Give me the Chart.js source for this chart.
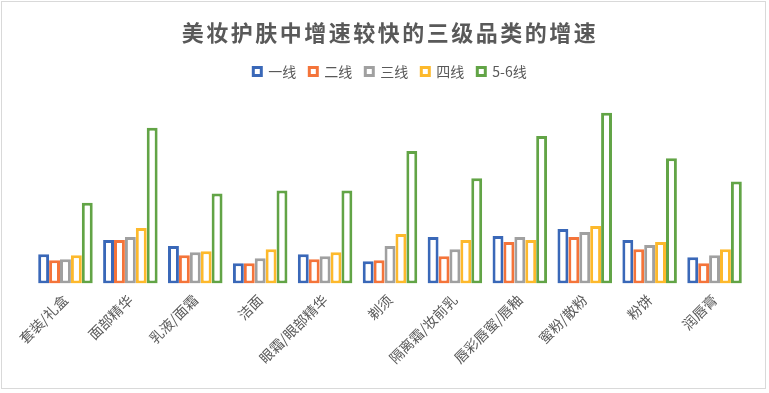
<!DOCTYPE html>
<html>
<head>
<meta charset="utf-8">
<script src="https://cdn.jsdelivr.net/npm/chart.js@4/dist/chart.umd.min.js"></script>
<style>
  html, body { margin: 0; padding: 0; background: #fff; }
  #wrap { position: relative; width: 769px; height: 393px; }
</style>
</head>
<body>
<div id="wrap"><canvas id="chart"></canvas></div>
<script>
const TITLE = '美妆护肤中增速较快的三级品类的增速';
const CATEGORIES = ['套装/礼盒', '面部精华', '乳液/面霜', '洁面', '眼霜/眼部精华', '剃须',
  '隔离霜/妆前乳', '唇彩唇蜜/唇釉', '蜜粉/散粉', '粉饼', '润唇膏'];
const SERIES_NAMES = ['一线', '二线', '三线', '四线', '5-6线'];

// values (no axis shown, arbitrary units)
const TIER1 = [29, 43, 37, 20, 29, 22, 46, 47, 54, 43, 26];
const TIER2 = [23, 43, 28, 20, 24, 23, 27, 41, 46, 34, 20];
const TIER3 = [24, 46, 31, 25, 27, 37, 34, 46, 51, 38, 28];
const TIER4 = [28, 55, 32, 34, 31, 49, 43, 43, 57, 41, 34];
const TIER56 = [80, 154, 89, 92, 92, 131, 104, 146, 169, 124, 101];

const SERIES_COLORS = ['#3a68b8', '#f4743a', '#a0a0a0', '#fdb92c', '#62a446'];
const TEXT_COLOR = '#595959';
const Y_MAX = 193;

const FONT = '"Microsoft YaHei", "Noto Sans CJK SC", sans-serif';

const chartBorder = {
  id: 'chartBorder',
  beforeDraw(chart) {
    const ctx = chart.ctx;
    ctx.save();
    ctx.fillStyle = '#fff';
    ctx.fillRect(0, 0, chart.width, chart.height);
    ctx.strokeStyle = '#d9d9d9';
    ctx.lineWidth = 1;
    ctx.strokeRect(1.5, 1.5, 764, 387);
    ctx.restore();
  },
};

const chart = new Chart(document.getElementById('chart'), {
  type: 'bar',
  data: {
    labels: CATEGORIES,
    datasets: [TIER1, TIER2, TIER3, TIER4, TIER56].map((values, i) => ({
      label: SERIES_NAMES[i],
      data: values,
      backgroundColor: '#ffffff',
      borderColor: SERIES_COLORS[i],
      borderWidth: 3,
      borderSkipped: false,
      categoryPercentage: 0.84,
      barPercentage: 1.0,
    })),
  },
  options: {
    responsive: true,
    maintainAspectRatio: false,
    animation: false,
    layout: { padding: { left: 33, right: 22, top: 0, bottom: 0 } },
    plugins: {
      title: {
        display: true,
        text: TITLE,
        color: TEXT_COLOR,
        font: { family: FONT, size: 22, weight: 'bold' },
        padding: { top: 19, bottom: 6 },
      },
      legend: {
        position: 'top',
        labels: {
          color: TEXT_COLOR,
          font: { family: FONT, size: 14 },
          boxWidth: 8,
          boxHeight: 8,
          padding: 13,
          generateLabels(c) {
            const items = Chart.defaults.plugins.legend.labels.generateLabels(c);
            items.forEach((item) => { item.lineWidth = 3; });
            return items;
          },
        },
      },
      tooltip: { enabled: false },
    },
    scales: {
      x: {
        grid: { display: false, drawTicks: false },
        border: { display: false },
        ticks: {
          color: TEXT_COLOR,
          font: { family: FONT, size: 14 },
          maxRotation: 45,
          minRotation: 45,
          padding: 8,
        },
        afterFit(scale) {
          scale.paddingLeft = 0;
          scale.paddingRight = 0;
          scale.height = 393 - 283.5;
        },
      },
      y: {
        display: false,
        min: 0,
        max: Y_MAX,
      },
    },
  },
  plugins: [chartBorder],
});

// the reference title is set with a little extra character spacing
const titleBox = chart.titleBlock;
const drawTitle = titleBox.draw.bind(titleBox);
titleBox.draw = function () {
  this.ctx.letterSpacing = '2.5px';
  drawTitle();
  this.ctx.letterSpacing = '0px';
};
chart.draw();
</script>
</body>
</html>
